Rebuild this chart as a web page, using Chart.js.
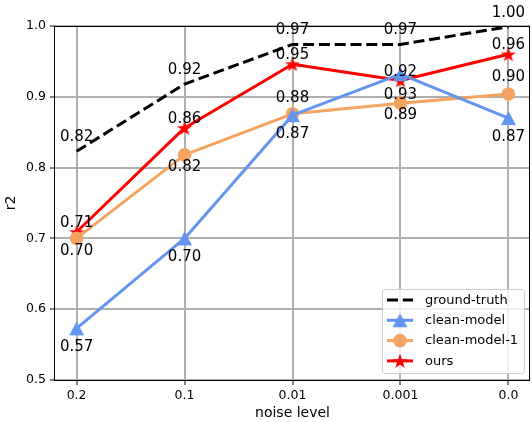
<!DOCTYPE html>
<html><head><meta charset="utf-8">
<script src="https://cdn.jsdelivr.net/npm/chart.js@4.4.0/dist/chart.umd.min.js"></script>
<style>html,body{margin:0;padding:0;background:#fff;} #wrap{width:532px;height:422px;position:relative;} canvas{display:block;}</style>
</head><body><div id="wrap"><canvas id="c" width="532" height="422" style="width:532px;height:422px"></canvas></div>
<script>
// ---- data ----
const categories = ['0.2', '0.1', '0.01', '0.001', '0.0'];
const yTickValues = [0.5, 0.6, 0.7, 0.8, 0.9, 1.0];
const yTickLabels = ['0.5', '0.6', '0.7', '0.8', '0.9', '1.0'];
const seriesNames = ['ground-truth', 'clean-model', 'clean-model-1', 'ours'];
const groundTruth = [0.823, 0.918, 0.974, 0.974, 0.999];
const cleanModel  = [0.573, 0.700, 0.874, 0.932, 0.870];
const cleanModel1 = [0.700, 0.818, 0.876, 0.891, 0.904];
const ours        = [0.709, 0.856, 0.946, 0.923, 0.960];

// ---- styling ----
const FONT = "'DejaVu Sans', sans-serif";
const RIGHT_MARGIN = 2;
function makeStar(R, color) {
  const s = Math.ceil(2 * R + 2);
  const cv = document.createElement('canvas');
  cv.width = s; cv.height = s;
  const g = cv.getContext('2d');
  const r = R * 0.381966;
  g.beginPath();
  for (let i = 0; i < 10; i++) {
    const rad = i % 2 === 0 ? R : r;
    const a = -Math.PI / 2 + i * Math.PI / 5;
    const px = s / 2 + rad * Math.cos(a), py = s / 2 + rad * Math.sin(a) + 0.6;
    i ? g.lineTo(px, py) : g.moveTo(px, py);
  }
  g.closePath(); g.fillStyle = color; g.fill();
  return cv;
}
function makeTri(w, h, color) {
  const cv = document.createElement('canvas');
  cv.width = Math.ceil(w + 2); cv.height = Math.ceil(h + 2);
  const g = cv.getContext('2d');
  const cx = cv.width / 2, cy = cv.height / 2;
  g.beginPath();
  g.moveTo(cx, cy - h / 2); g.lineTo(cx + w / 2, cy + h / 2); g.lineTo(cx - w / 2, cy + h / 2);
  g.closePath(); g.fillStyle = color; g.fill();
  return cv;
}
const BLUE = '#6495ED', ORANGE = '#F4A460', RED = '#FF0000';
const starImg = makeStar(8, RED);
const triImg = makeTri(15, 14, BLUE);

// label offsets (px, centre of text relative to point)
const labelOffsets = [
  [-14, -14, -14, -14, -14],
  [19, 19, 19, 21, 19],
  [12.5, 12.5, -16, 12, -16.5],
  [-9, -9, -9, -8.5, -9]
];

const toXY = arr => arr.map((v, i) => ({ x: i, y: v }));

const areaPlugin = {
  id: 'areaFix',
  afterLayout(chart) {
    const ca = chart.chartArea, x = chart.scales.x;
    const right = chart.width - RIGHT_MARGIN;
    ca.right = right; ca.width = ca.right - ca.left;
    x.right = right; x.width = x.right - x.left;
    x.configure();
  }
};

const annotPlugin = {
  id: 'annot',
  afterDatasetsDraw(chart) {
    const { ctx, chartArea: ca } = chart;
    ctx.save();
    ctx.strokeStyle = '#000'; ctx.lineWidth = 1;
    ctx.strokeRect(ca.left - 0.5, ca.top + 0.5, ca.right - ca.left, ca.bottom - ca.top);
    ctx.restore();
    ctx.save();
    ctx.font = '15px ' + FONT;
    ctx.fillStyle = '#000';
    ctx.textAlign = 'center';
    ctx.textBaseline = 'middle';
    chart.data.datasets.forEach((ds, di) => {
      const meta = chart.getDatasetMeta(di);
      meta.data.forEach((pt, i) => {
        const v = ds.data[i].y;
        ctx.fillText(v.toFixed(2), pt.x, pt.y + labelOffsets[di][i]);
      });
    });
    ctx.restore();
  },
  afterDraw(chart) {
    const { ctx, chartArea: ca } = chart;
    const w = 142, h = 84;
    const x0 = ca.right - 6 - w, y0 = ca.bottom - 7 - h;
    ctx.save();
    ctx.beginPath();
    if (ctx.roundRect) ctx.roundRect(x0 + 0.5, y0 + 0.5, w, h, 3); else ctx.rect(x0 + 0.5, y0 + 0.5, w, h);
    ctx.fillStyle = 'rgba(255,255,255,0.8)'; ctx.fill();
    ctx.strokeStyle = '#cccccc'; ctx.lineWidth = 1; ctx.stroke();
    ctx.font = '13px ' + FONT;
    ctx.textBaseline = 'middle'; ctx.textAlign = 'left';
    chart.data.datasets.forEach((ds, i) => {
      const y = y0 + 11 + i * 20.3;
      const sx0 = x0 + 5, sx1 = x0 + 31;
      ctx.save();
      ctx.strokeStyle = ds.borderColor; ctx.lineWidth = ds.borderWidth;
      ctx.setLineDash(ds.borderDash || []);
      ctx.lineCap = 'butt';
      ctx.beginPath(); ctx.moveTo(sx0, y); ctx.lineTo(sx1, y); ctx.stroke();
      ctx.restore();
      if (ds.pointRadius > 0) {
        if (ds.pointStyle === 'circle') {
          ctx.beginPath(); ctx.arc((sx0 + sx1) / 2, y, ds.pointRadius, 0, Math.PI * 2); ctx.fillStyle = ds.pointBackgroundColor; ctx.fill();
        } else {
          const img = ds.pointStyle;
          ctx.drawImage(img, (sx0 + sx1) / 2 - img.width / 2, y - img.height / 2);
        }
      }
      ctx.fillStyle = '#000';
      ctx.fillText(ds.label, x0 + 43, y + 0.5);
    });
    ctx.restore();
  }
};

new Chart(document.getElementById('c'), {
  type: 'line',
  data: {
    datasets: [
      { label: seriesNames[0], data: toXY(groundTruth), borderColor: '#000', backgroundColor: '#000', borderWidth: 3, borderDash: [11, 4.8], pointRadius: 0, pointHoverRadius: 0 },
      { label: seriesNames[1], data: toXY(cleanModel), borderColor: BLUE, backgroundColor: BLUE, borderWidth: 3, pointStyle: triImg, pointRadius: 7, pointBackgroundColor: BLUE, pointBorderWidth: 0 },
      { label: seriesNames[2], data: toXY(cleanModel1), borderColor: ORANGE, backgroundColor: ORANGE, borderWidth: 3, pointStyle: 'circle', pointRadius: 6.8, pointBackgroundColor: ORANGE, pointBorderColor: ORANGE, pointBorderWidth: 0 },
      { label: seriesNames[3], data: toXY(ours), borderColor: RED, backgroundColor: RED, borderWidth: 3, pointStyle: starImg, pointRadius: 8, pointBackgroundColor: RED, pointBorderWidth: 0 }
    ]
  },
  options: {
    responsive: false,
    animation: false,
    devicePixelRatio: 1,
    layout: { padding: { top: 26, right: 2, left: 0, bottom: 0 } },
    plugins: { legend: { display: false }, tooltip: { enabled: false } },
    elements: { line: { tension: 0, borderCapStyle: 'butt', borderJoinStyle: 'round' } },
    scales: {
      x: {
        type: 'linear', min: -0.2, max: 4.2,
        afterBuildTicks: s => { s.ticks = categories.map((c, i) => ({ value: i })); },
        afterFit: s => { s.height = 42; s.paddingLeft = 0; s.paddingRight = 0; },
        ticks: { callback: (v) => categories[Math.round(v)], color: '#000', font: { family: FONT, size: 12.5 }, padding: 3, maxRotation: 0, autoSkip: false },
        grid: { color: '#b0b0b0', lineWidth: 2, tickColor: '#000', tickWidth: 1, tickLength: 5 },
        border: { display: false },
        title: { display: true, text: 'noise level', color: '#000', font: { family: FONT, size: 14 }, padding: { top: 0, bottom: 0 } }
      },
      y: {
        type: 'linear', min: 0.5, max: 1.0,
        afterBuildTicks: s => { s.ticks = yTickValues.map(v => ({ value: v })); },
        afterFit: s => { s.width = 55; s.paddingTop = 0; s.paddingBottom = 0; },
        ticks: { callback: (v) => yTickLabels[yTickValues.findIndex(t => Math.abs(t - v) < 1e-6)], color: '#000', font: { family: FONT, size: 12.5 }, padding: 4, autoSkip: false },
        grid: { color: '#b0b0b0', lineWidth: 2, tickColor: '#000', tickWidth: 1, tickLength: 5 },
        border: { display: false },
        title: { display: true, text: 'r2', color: '#000', font: { family: FONT, size: 14 }, padding: { top: 3, bottom: 0 } }
      }
    }
  },
  plugins: [areaPlugin, annotPlugin]
});
</script></body></html>
